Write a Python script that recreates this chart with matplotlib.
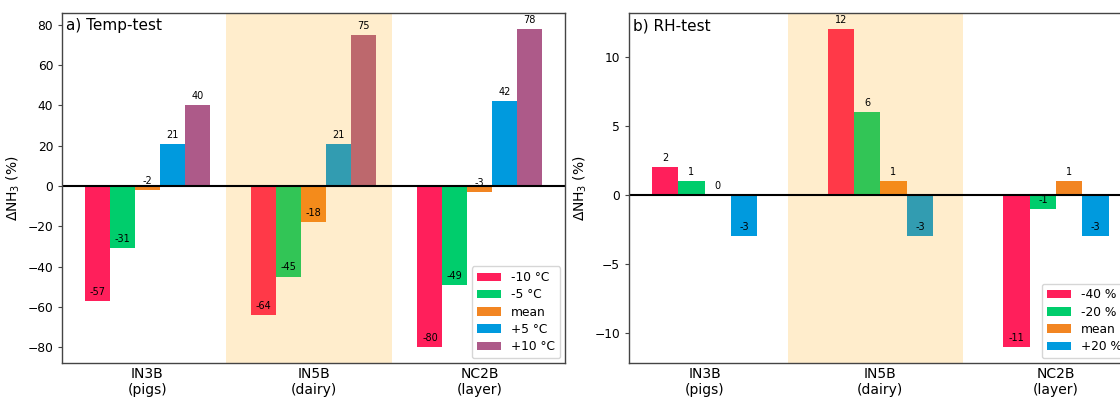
import matplotlib
matplotlib.use("Agg")
import matplotlib.pyplot as plt
import numpy as np

# Farm sites shown on the x axis
sites = ["IN3B\n(pigs)", "IN5B\n(dairy)", "NC2B\n(layer)"]

# a) Temperature test: change in NH3 (%) per scenario and site
temp_labels = ["-10 °C", "-5 °C", "mean", "+5 °C", "+10 °C"]
temp_minus10 = [-57, -64, -80]
temp_minus5 = [-31, -45, -49]
temp_mean = [-2, -18, -3]
temp_plus5 = [21, 21, 42]
temp_plus10 = [40, 75, 78]

# b) Relative humidity test: change in NH3 (%) per scenario and site
rh_labels = ["-40 %", "-20 %", "mean", "+20 %"]
rh_minus40 = [2, 12, -11]
rh_minus20 = [1, 6, -1]
rh_mean = [0, 1, 1]
rh_plus20 = [-3, -3, -3]

colors = ["#ff1f5b", "#00cd6c", "#f28522", "#009ade", "#ad5a89"]
width = 0.15

fig = plt.figure(figsize=(11.2, 3.98), dpi=100)
ax_a = fig.add_axes([0.0556, 0.0879, 0.4488, 0.8794])
ax_b = fig.add_axes([0.5616, 0.0879, 0.4488, 0.8794])


def grouped_bars(ax, series, labels, panel_title):
    x = np.arange(len(sites))
    n = len(series)
    for i, (vals, lab) in enumerate(zip(series, labels)):
        pos = x + (i - 2) * width if n == 5 else x + (i - 1.5) * width
        bars = ax.bar(pos, vals, width, color=colors[i], label=lab, zorder=1)
        for b, v in zip(bars, vals):
            ax.annotate(f"{v}", xy=(b.get_x() + b.get_width() / 2, v),
                        xytext=(0, 3), textcoords="offset points",
                        ha="center", va="bottom", fontsize=7, zorder=4)
    # highlight the middle site
    ax.axvspan(0.472, 1.472, color="orange", alpha=0.2, lw=0, zorder=1.5)
    ax.axhline(0, color="black", lw=1.5, zorder=2.5)
    ax.set_xticks(x)
    ax.set_xticklabels(sites, fontsize=10, linespacing=1.15)
    ax.tick_params(axis="x", length=0, pad=3)
    ax.tick_params(axis="y", labelsize=8.8, length=3, width=0.8, color="#444444")
    ax.set_ylabel("ΔNH$_3$ (%)", fontsize=10)
    for s in ax.spines.values():
        s.set_color("#444444")
        s.set_linewidth(1.0)
    ax.text(0.008, 0.985, panel_title, transform=ax.transAxes,
            ha="left", va="top", fontsize=11)
    ax.legend(loc="lower right", fontsize=8.8, labelspacing=0.35,
              handlelength=2.0, borderaxespad=0.4)


grouped_bars(ax_a, [temp_minus10, temp_minus5, temp_mean, temp_plus5, temp_plus10],
             temp_labels, "a) Temp-test")
grouped_bars(ax_b, [rh_minus40, rh_minus20, rh_mean, rh_plus20],
             rh_labels, "b) RH-test")

fig.savefig("out.png", dpi=100)
